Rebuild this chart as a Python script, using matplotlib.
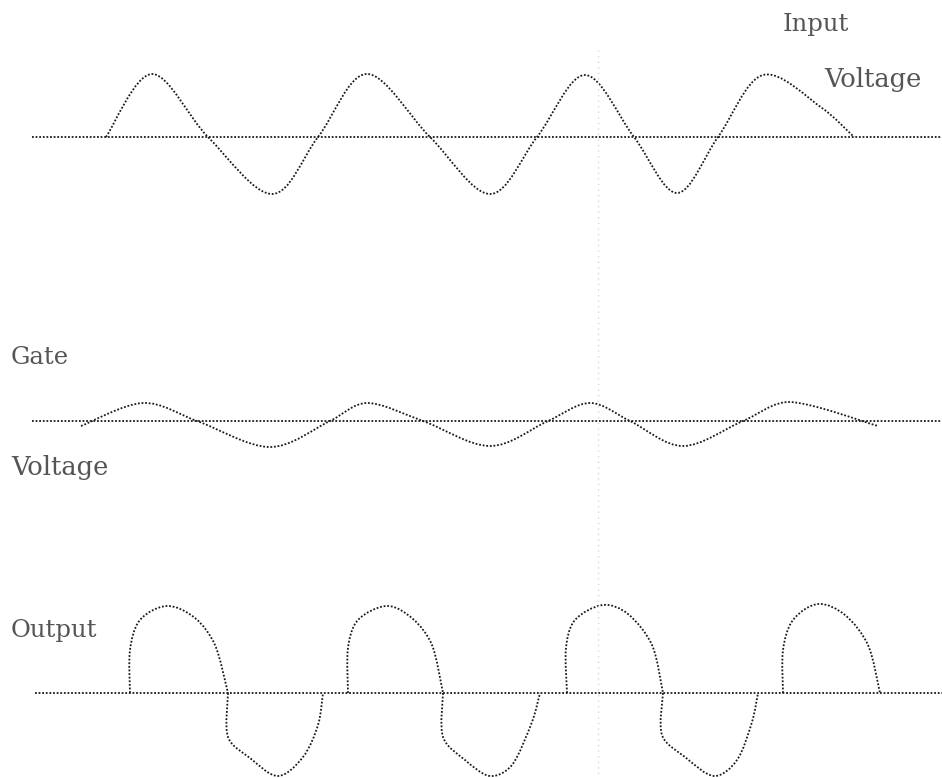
import matplotlib.pyplot as plt
import numpy as np
from matplotlib.path import Path
from matplotlib.patches import PathPatch

# key points (pixel coords, y grows downward)
input_x = [106, 152, 208, 272, 318, 367, 430, 490, 537, 585, 634, 677, 718, 763, 822, 854]
input_y = [137, 74, 137, 194, 137, 74, 137, 194, 137, 75, 137, 193, 137, 75, 108, 137]

gate_x = [81, 143, 197, 270, 330, 367, 423, 490, 548, 590, 630, 683, 743, 790, 878]
gate_y = [426, 403, 421, 447, 421, 403, 421, 446, 421, 403, 421, 446, 421, 402, 426]

# output: positive lobes then negative lobes
pos_lobes = [
    ([130, 130, 140, 167, 195, 215, 228], [693, 650, 620, 606, 618, 645, 693]),
    ([348, 348, 358, 387, 413, 432, 443], [693, 648, 620, 606, 619, 645, 693]),
    ([567, 566, 575, 603, 628, 652, 663], [693, 648, 620, 605, 614, 645, 693]),
    ([783, 783, 793, 818, 845, 868, 880], [693, 650, 620, 604, 615, 645, 693]),
]
neg_lobes = [
    ([228, 228, 250, 278, 303, 318, 323], [693, 737, 758, 776, 757, 725, 693]),
    ([443, 443, 465, 490, 512, 532, 540], [693, 737, 760, 776, 765, 722, 693]),
    ([663, 662, 685, 714, 737, 752, 758], [693, 735, 757, 776, 760, 722, 693]),
]

baselines_y = [137, 421, 693]
baseline_x0 = [32, 32, 35]

labels = [("Input", 783, 24, 17.5), ("Voltage", 824, 79, 18.5), ("Gate", 11, 357, 17.5),
          ("Voltage", 11, 467, 18.5), ("Output", 11, 631, 17.5)]

W, H = 942, 778
fig = plt.figure(figsize=(W / 100, H / 100), dpi=100)
ax = fig.add_axes([0, 0, 1, 1])
ax.set_xlim(0, W)
ax.set_ylim(H, 0)
ax.axis('off')

dot = dict(color='#1a1a1a', linestyle=(0, (1, 1)), linewidth=1.3)


def smooth(ax, xs, ys):
    # bezier path through the read points, tangents from neighbours
    p = np.column_stack([xs, ys]).astype(float)
    n = len(p)
    tang, span = [], []
    for i in range(n):
        d = p[min(i + 1, n - 1)] - p[max(i - 1, 0)]
        tang.append(d / np.hypot(*d))
        span.append(np.hypot(*d) / 6)
    verts = [p[0]]
    codes = [Path.MOVETO]
    for i in range(n - 1):
        L = np.hypot(*(p[i + 1] - p[i])) / 3
        a = min(L, span[i])
        b = min(L, span[i + 1])
        verts += [p[i] + tang[i] * a, p[i + 1] - tang[i + 1] * b, p[i + 1]]
        codes += [Path.CURVE4] * 3
    ax.add_patch(PathPatch(Path(verts, codes), fill=False, **dot))


# faint scan line
ax.plot([598, 598], [50, 778], color='#d8d8d8', linestyle=(0, (1, 3)), linewidth=1)

for y, x0 in zip(baselines_y, baseline_x0):
    ax.plot([x0, W], [y, y], **dot)

smooth(ax, input_x, input_y)
smooth(ax, gate_x, gate_y)
for xs, ys in pos_lobes + neg_lobes:
    smooth(ax, xs, ys)

for txt, x, y, fs in labels:
    ax.text(x, y, txt, family='DejaVu Serif', fontsize=fs, color='#555555',
            ha='left', va='center')

fig.savefig('out.png', dpi=100)
